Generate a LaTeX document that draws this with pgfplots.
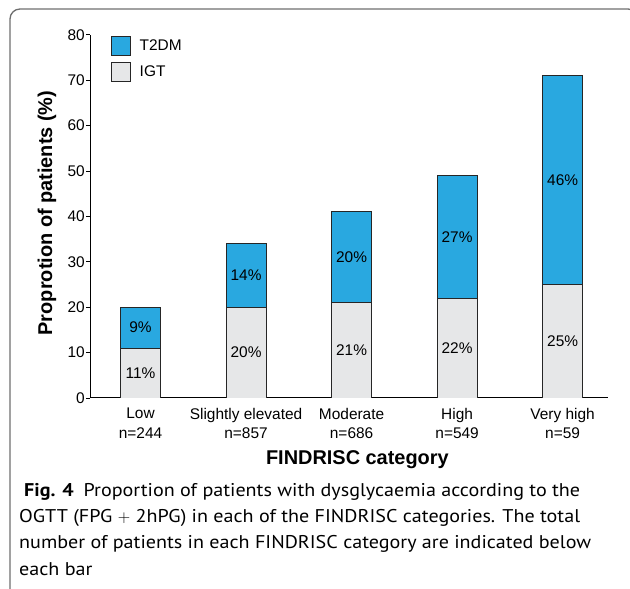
\documentclass[border=0pt]{standalone}
\usepackage{fontspec}
\setmainfont{Liberation Sans}
\newfontfamily\capfont[FakeStretch=1.09]{PT Sans}
\usepackage{pgfplots}
\pgfplotsset{compat=1.18}
\definecolor{tblue}{RGB}{41,168,224}
\definecolor{igtgray}{RGB}{230,231,232}
\definecolor{framegray}{RGB}{110,110,110}
\newcommand{\lf}{\fontsize{15.5}{19.3}\selectfont}

\pgfplotstableread{
x igt t2dm
0 11 9
1 20 14
2 21 20
3 22 27
4 25 46
}\datatab

\pgfplotstableread{
x y lab
0 5.5 11\%
0 15.5 9\%
1 10 20\%
1 27 14\%
2 10.5 21\%
2 31 20\%
3 11 22\%
3 35.5 27\%
4 12.5 25\%
4 48 46\%
}\labtab

\begin{document}
\begin{tikzpicture}[x=1bp,y=1bp]
\useasboundingbox (0,0) rectangle (630,589);
\begin{scope}
\clip (0,0) rectangle (630,589);
\draw[framegray, line width=1.3bp, rounded corners=10bp] (10,-10) -- (10,580) -- (638,580) -- (638,500);
\end{scope}
\begin{axis}[
  at={(90bp,191bp)}, anchor=south west,
  scale only axis, width=518bp, height=363.2bp,
  xmin=-0.479, xmax=4.43, ymin=0, ymax=80,
  ybar stacked, bar width=40bp,
  axis x line*=bottom, axis y line*=left,
  axis line style={line width=1bp, -},
  xtick={0,1,2,3,4},
  xticklabels={{Low\\n=244},{Slightly elevated\\n=857},{Moderate\\n=686},{High\\n=549},{Very high\\n=59}},
  xticklabel style={align=center, font=\lf, anchor=north, inner sep=0pt, yshift=-10bp},
  x tick style={draw=none},
  ytick={0,10,...,80},
  y tick style={line width=0.9bp, black},
  ytick align=outside, major tick length=4bp,
  yticklabel style={font=\lf, inner sep=0pt, xshift=-1bp},
  /pgf/number format/assume math mode=true,
  legend style={draw=none, fill=none, at={(0.040,0.9975)}, anchor=north west,
    inner sep=0pt, row sep=6.5bp, font=\lf, cells={anchor=west},
    /tikz/every odd column/.append style={column sep=7bp}},
  legend image code/.code={\draw[#1, line width=0.8bp] (0bp,-9.5bp) rectangle (19bp,9.5bp);},
  reverse legend,
]
\addplot[fill=igtgray, draw=black!85, line width=0.8bp] table[x=x, y=igt] {\datatab};
\addplot[fill=tblue, draw=black!85, line width=0.8bp] table[x=x, y=t2dm] {\datatab};
\legend{IGT, T2DM}
\end{axis}
\begin{axis}[
  at={(90bp,191bp)}, anchor=south west,
  scale only axis, width=518bp, height=363.2bp,
  xmin=-0.479, xmax=4.43, ymin=0, ymax=80,
  hide axis, clip=false,
]
\addplot[draw=none, mark=none, only marks, nodes near coords, point meta=explicit symbolic,
  nodes near coords style={anchor=center, font=\lf, inner sep=0pt, text=black}]
  table[x=x, y=y, meta=lab] {\labtab};
\end{axis}
\node[font=\bfseries\fontsize{20}{24}\selectfont, rotate=90] at (47,376) {Proprotion of patients (\%)};
\node[font=\bfseries\fontsize{20}{24}\selectfont, anchor=base] at (357.4,124) {FINDRISC category};
\begin{scope}[every node/.style={anchor=base west, inner sep=0pt, font=\capfont\fontsize{18.5}{22}\selectfont}]
\node at (24,92.3) {\textbf{Fig. 4}\hspace{10bp}Proportion of patients with dysglycaemia according to the};
\node at (19,66.3) {OGTT (FPG $+$ 2hPG) in each of the FINDRISC categories. The total};
\node at (19,40) {number of patients in each FINDRISC category are indicated below};
\node at (19,13.7) {each bar};
\end{scope}
\end{tikzpicture}
\end{document}
